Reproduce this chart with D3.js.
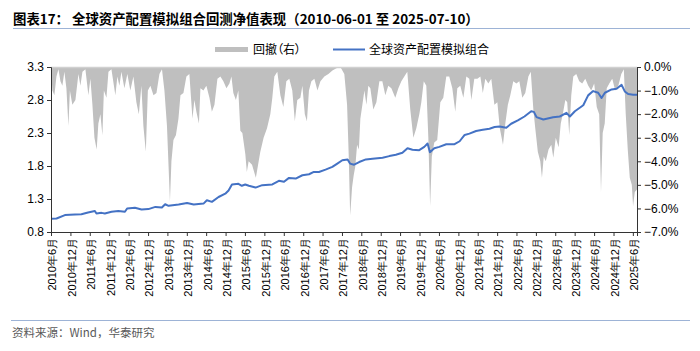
<!DOCTYPE html>
<html>
<head>
<meta charset="utf-8">
<script src="https://cdn.jsdelivr.net/npm/d3@7"></script>
<style>
  body { margin: 0; background: #fff; }
  svg { display: block; }
  .tick text { font-family: "Liberation Sans", Arial, sans-serif; }
</style>
</head>
<body>
<svg id="chart" width="700" height="351"></svg>
<script>
// 净值 (左轴)
var navDates = ["2010-06-01","2010-07-23","2010-10-10","2011-01-13","2011-03-14","2011-05-16","2011-07-19","2011-08-03","2011-09-20","2011-10-21","2011-12-23","2012-02-25","2012-04-27","2012-05-18","2012-07-30","2012-10-01","2012-12-04","2013-02-08","2013-04-10","2013-05-11","2013-06-12","2013-09-15","2013-12-03","2014-02-04","2014-05-07","2014-06-08","2014-07-25","2014-09-26","2014-11-28","2014-12-29","2015-01-30","2015-04-01","2015-05-03","2015-06-04","2015-07-08","2015-09-09","2015-11-11","2016-02-14","2016-04-16","2016-06-03","2016-07-20","2016-09-21","2016-11-23","2017-01-25","2017-03-11","2017-04-28","2017-06-29","2017-09-01","2017-10-18","2017-12-04","2018-01-23","2018-02-15","2018-03-25","2018-05-12","2018-07-14","2018-09-15","2018-12-18","2019-02-20","2019-04-22","2019-06-23","2019-08-10","2019-09-26","2019-11-28","2020-01-15","2020-02-15","2020-03-08","2020-04-18","2020-06-04","2020-08-09","2020-10-26","2020-12-13","2021-01-29","2021-03-15","2021-05-17","2021-07-19","2021-09-20","2021-11-07","2021-12-24","2022-02-25","2022-04-12","2022-06-14","2022-08-15","2022-10-18","2022-11-12","2022-12-07","2023-02-09","2023-05-12","2023-07-14","2023-09-15","2023-10-17","2023-12-03","2024-02-20","2024-04-06","2024-05-23","2024-07-09","2024-08-10","2024-09-11","2024-11-13","2024-12-30","2025-02-15","2025-03-17","2025-04-18","2025-06-04","2025-07-10"];
var navValues = [1.00,1.005,1.056,1.066,1.07,1.096,1.117,1.08,1.09,1.08,1.106,1.117,1.106,1.156,1.167,1.14,1.147,1.18,1.17,1.22,1.197,1.217,1.24,1.217,1.23,1.28,1.257,1.33,1.38,1.43,1.52,1.53,1.50,1.52,1.50,1.473,1.51,1.52,1.575,1.56,1.62,1.61,1.66,1.675,1.71,1.71,1.745,1.786,1.836,1.887,1.90,1.836,1.82,1.86,1.90,1.91,1.926,1.95,1.97,2.00,2.07,2.047,2.04,2.09,2.14,2.01,2.07,2.09,2.13,2.13,2.175,2.27,2.29,2.33,2.35,2.365,2.39,2.40,2.38,2.44,2.49,2.55,2.63,2.62,2.54,2.505,2.54,2.55,2.605,2.55,2.63,2.72,2.87,2.935,2.91,2.83,2.91,2.96,2.97,3.03,2.93,2.89,2.88,2.88];

// 回撤 (右轴, %)
var ddDates = ["2010-06-01","2010-06-14","2010-07-03","2010-07-22","2010-08-10","2010-08-29","2010-09-16","2010-10-05","2010-10-24","2010-11-12","2010-11-26","2010-12-19",
"2011-01-17","2011-02-14","2011-03-05","2011-03-24","2011-04-21","2011-05-19","2011-06-07","2011-06-26","2011-07-15","2011-08-05","2011-08-21","2011-09-09","2011-09-28","2011-10-12","2011-11-05","2011-11-24","2011-12-22",
"2012-01-28","2012-02-16","2012-03-06","2012-03-25","2012-04-22","2012-05-20","2012-06-17","2012-07-16","2012-08-13","2012-09-05","2012-09-29","2012-10-18","2012-11-10","2012-11-29","2012-12-23",
"2013-01-21","2013-02-18","2013-03-18","2013-04-11","2013-05-04","2013-05-28","2013-06-25","2013-07-09","2013-07-28","2013-08-20","2013-09-13","2013-10-02","2013-10-30","2013-11-27","2013-12-25",
"2014-01-23","2014-02-10","2014-03-01","2014-03-25","2014-04-08","2014-05-06","2014-06-03","2014-07-02","2014-07-25","2014-08-18","2014-09-15","2014-10-13","2014-11-10","2014-12-09",
"2015-01-06","2015-01-25","2015-02-12","2015-03-08","2015-03-31","2015-04-19","2015-05-08","2015-06-05","2015-06-19","2015-07-06","2015-08-07","2015-09-12","2015-10-01","2015-10-24","2015-11-24","2015-12-26",
"2016-01-26","2016-02-14","2016-03-04","2016-04-01","2016-04-30","2016-05-28","2016-06-25","2016-07-23","2016-08-20","2016-09-13","2016-10-06","2016-11-04","2016-11-23","2016-12-16",
"2017-01-05","2017-01-24","2017-02-16","2017-03-16","2017-04-14","2017-05-12","2017-06-18","2017-07-26","2017-09-02","2017-10-09","2017-11-16","2017-12-23",
"2018-01-18","2018-02-02","2018-02-16","2018-03-06","2018-03-21","2018-04-06","2018-04-22","2018-05-09","2018-05-23","2018-06-11","2018-06-30","2018-07-19","2018-08-06","2018-08-25","2018-09-22","2018-10-21","2018-11-18","2018-12-16",
"2019-01-13","2019-02-10","2019-03-11","2019-04-17","2019-05-16","2019-06-13","2019-07-11","2019-08-08","2019-09-05","2019-10-04","2019-11-01","2019-11-29","2019-12-18",
"2020-01-10","2020-02-03","2020-02-22","2020-03-10","2020-03-26","2020-04-18","2020-05-16","2020-06-14","2020-07-12","2020-08-09","2020-09-06","2020-10-05","2020-11-02","2020-11-21","2020-12-19",
"2021-01-17","2021-02-14","2021-03-14","2021-04-02","2021-04-30","2021-05-29","2021-06-26","2021-07-19","2021-08-12","2021-09-09","2021-10-07","2021-11-05","2021-12-03","2021-12-26",
"2022-01-25","2022-02-16","2022-03-12","2022-04-04","2022-05-02","2022-05-31","2022-06-28","2022-07-26","2022-08-23","2022-09-21","2022-10-14","2022-11-07","2022-11-25","2022-12-19",
"2023-01-11","2023-01-27","2023-02-13","2023-03-04","2023-03-30","2023-04-25","2023-05-14","2023-06-06","2023-07-03","2023-07-23","2023-08-11","2023-09-04","2023-09-22","2023-10-11","2023-10-30","2023-11-18","2023-12-16",
"2024-01-13","2024-02-10","2024-03-10","2024-04-07","2024-05-05","2024-06-02","2024-06-26","2024-07-19","2024-08-05","2024-08-21","2024-09-09","2024-09-28","2024-10-22","2024-11-19","2024-12-17",
"2025-01-15","2025-02-12","2025-03-08","2025-03-26","2025-04-14","2025-05-03","2025-05-22","2025-06-03","2025-06-19","2025-07-10"];
var ddValues = [0,-1.0,-1.2,-0.4,-0.1,-0.6,-0.8,-0.2,-0.9,-2.5,-1.0,-1.6,
-1.4,-0.3,-0.8,-0.2,-0.1,-1.2,-0.5,-1.6,-3.0,-3.5,-2.4,-2.0,-2.9,-1.0,-1.3,-0.2,-0.1,
-1.2,-0.4,-0.8,-0.2,-0.9,-0.3,-1.0,-0.4,-1.5,-2.0,-0.8,-2.5,-3.6,-1.0,-0.8,
-1.2,-1.1,-0.3,-0.1,-1.0,-2.5,-5.7,-4.0,-3.1,-2.9,-2.2,-1.2,-1.1,-0.4,-0.3,
-2.2,-1.4,-1.9,-2.4,-0.9,-1.0,-0.8,-1.3,-1.9,-1.6,-0.5,-0.4,-0.6,-0.9,
-0.7,-0.4,-1.1,-1.4,-1.0,-2.7,-2.8,-3.7,-4.45,-4.0,-4.15,-4.7,-4.2,-3.6,-3.0,-2.6,
-2.0,-1.3,-0.4,-0.2,-1.2,-1.7,-0.6,-0.5,-1.0,-2.3,-1.4,-1.3,-0.8,-2.0,
-2.3,-1.0,-0.6,-0.5,-1.0,-0.6,-0.4,-0.3,-0.15,-0.05,0,-0.3,
-1.6,-3.7,-6.3,-5.1,-4.6,-4.2,-3.3,-3.5,-2.2,-1.6,-1.0,-1.6,-0.8,-0.9,-1.8,-1.5,-0.6,-0.6,
-1.2,-0.8,-0.9,-1.3,-0.9,-0.6,-0.4,-0.2,-1.8,-3.0,-2.6,-2.0,-1.5,
-0.6,-0.8,-3.0,-5.9,-3.8,-3.2,-3.1,-1.5,-1.3,-0.4,-0.4,-0.9,-1.9,-0.9,-0.8,
-1.3,-0.4,-0.5,-1.4,-0.5,-0.5,-0.4,-1.1,-0.5,-0.7,-0.5,-1.6,-1.5,-2.6,
-3.3,-2.4,-1.6,-1.2,-0.6,-0.7,-0.6,-1.3,-1.1,-0.4,-0.2,-1.8,-2.6,-3.6,
-4.0,-4.7,-3.8,-4.0,-3.5,-3.3,-3.85,-3.0,-3.4,-2.4,-2.0,-1.4,-1.5,-2.9,-1.2,-0.4,-0.3,
-0.6,-0.7,-0.5,-0.8,-1.0,-0.7,-1.7,-2.0,-5.3,-2.8,-2.4,-0.9,-0.7,-0.5,-1.0,
-0.8,-0.3,-0.1,-2.0,-3.5,-4.7,-5.0,-5.9,-5.3,-5.2];

// 坐标轴刻度
var xTickDates = ["2010-06-01","2010-12-01","2011-06-01","2011-12-01","2012-06-01","2012-12-01","2013-06-01","2013-12-01","2014-06-01","2014-12-01","2015-06-01","2015-12-01","2016-06-01","2016-12-01","2017-06-01","2017-12-01","2018-06-01","2018-12-01","2019-06-01","2019-12-01","2020-06-01","2020-12-01","2021-06-01","2021-12-01","2022-06-01","2022-12-01","2023-06-01","2023-12-01","2024-06-01","2024-12-01","2025-06-01"];
var leftTicks = [0.8, 1.3, 1.8, 2.3, 2.8, 3.3];
var rightTicks = [0, -1, -2, -3, -4, -5, -6, -7];

var parse = d3.timeParse("%Y-%m-%d");
var svg = d3.select("#chart");

var plotL = 51, plotR = 637, plotT = 67, plotB = 232;

var x = d3.scaleTime()
    .domain([parse("2010-06-01"), parse("2025-07-10")])
    .range([plotL, plotR]);
var yL = d3.scaleLinear().domain([0.8, 3.3]).range([plotB, plotT]);
var yR = d3.scaleLinear().domain([-7, 0]).range([plotB, plotT]);

var navData = navDates.map(function(d, i){ return {date: parse(d), v: navValues[i]}; });
var ddData = ddDates.map(function(d, i){ return {date: parse(d), v: ddValues[i]}; });

// 标题
svg.append("text")
    .attr("x", 13).attr("y", 24)
    .style("font-family", "'Noto Sans CJK SC', sans-serif")
    .style("font-weight", "bold")
    .style("font-size", "13.4px")
    .attr("fill", "#000")
    .text("图表17：  全球资产配置模拟组合回测净值表现（2010-06-01 至 2025-07-10）");

svg.append("line")
    .attr("x1", 13).attr("x2", 690).attr("y1", 28.5).attr("y2", 28.5)
    .attr("stroke", "#9db3d6").attr("stroke-width", 1);

// 回撤面积
var area = d3.area()
    .x(function(d){ return x(d.date); })
    .y0(yR(0))
    .y1(function(d){ return yR(d.v); });

svg.append("path")
    .datum(ddData)
    .attr("d", area)
    .attr("fill", "#bfbfbf");

svg.append("line")
    .attr("x1", plotL).attr("x2", plotR).attr("y1", plotT + 0.5).attr("y2", plotT + 0.5)
    .attr("stroke", "#d0d0d0").attr("stroke-width", 1.5);

// 净值折线
var line = d3.line()
    .x(function(d){ return x(d.date); })
    .y(function(d){ return yL(d.v); });

svg.append("path")
    .datum(navData)
    .attr("d", line)
    .attr("fill", "none")
    .attr("stroke", "#4472c4")
    .attr("stroke-width", 2)
    .attr("stroke-linejoin", "round");

// 左轴
var axL = svg.append("g")
    .attr("transform", "translate(" + plotL + ",0)")
    .call(d3.axisLeft(yL).tickValues(leftTicks).tickSize(4).tickFormat(d3.format(".1f")));

// 右轴
var axR = svg.append("g")
    .attr("transform", "translate(" + plotR + ",0)")
    .call(d3.axisRight(yR).tickValues(rightTicks).tickSize(4).tickFormat(function(d){ return d3.format(".1f")(d) + "%"; }));

// 横轴
var axX = svg.append("g")
    .attr("transform", "translate(0," + plotB + ")")
    .call(d3.axisBottom(x).tickValues(xTickDates.map(parse)).tickSize(4)
        .tickFormat(function(d){ return d.getFullYear() + "年" + (d.getMonth() + 1) + "月"; }));

axX.selectAll("text")
    .attr("transform", "rotate(-90)")
    .attr("x", -6)
    .attr("y", 1)
    .attr("dy", "0.35em")
    .style("text-anchor", "end");

[axL, axR, axX].forEach(function(g){
    g.selectAll("path.domain").attr("stroke", "#333");
    g.selectAll(".tick line").attr("stroke", "#333");
    g.selectAll("text").attr("fill", "#000").style("font-size", "12px");
});
axX.selectAll("text").style("font-size", "11px");

// 图例
svg.append("rect")
    .attr("x", 215).attr("y", 47).attr("width", 33).attr("height", 5)
    .attr("fill", "#bfbfbf");
svg.append("text")
    .attr("x", 253).attr("y", 54)
    .style("font-family", "'Noto Sans CJK SC', sans-serif")
    .style("font-size", "12px")
    .style("font-feature-settings", "'palt'")
    .text("回撤（右）");
svg.append("line")
    .attr("x1", 333).attr("x2", 365).attr("y1", 49.5).attr("y2", 49.5)
    .attr("stroke", "#4472c4").attr("stroke-width", 2);
svg.append("text")
    .attr("x", 369).attr("y", 54)
    .style("font-family", "'Noto Sans CJK SC', sans-serif")
    .style("font-size", "12px")
    .text("全球资产配置模拟组合");

// 资料来源
svg.append("line")
    .attr("x1", 11).attr("x2", 690).attr("y1", 320.5).attr("y2", 320.5)
    .attr("stroke", "#9db3d6").attr("stroke-width", 1);
svg.append("text")
    .attr("x", 12).attr("y", 337)
    .style("font-family", "'Noto Sans CJK SC', sans-serif")
    .style("font-size", "11.5px")
    .attr("fill", "#595959")
    .text("资料来源：Wind，华泰研究");
</script>
</body>
</html>
